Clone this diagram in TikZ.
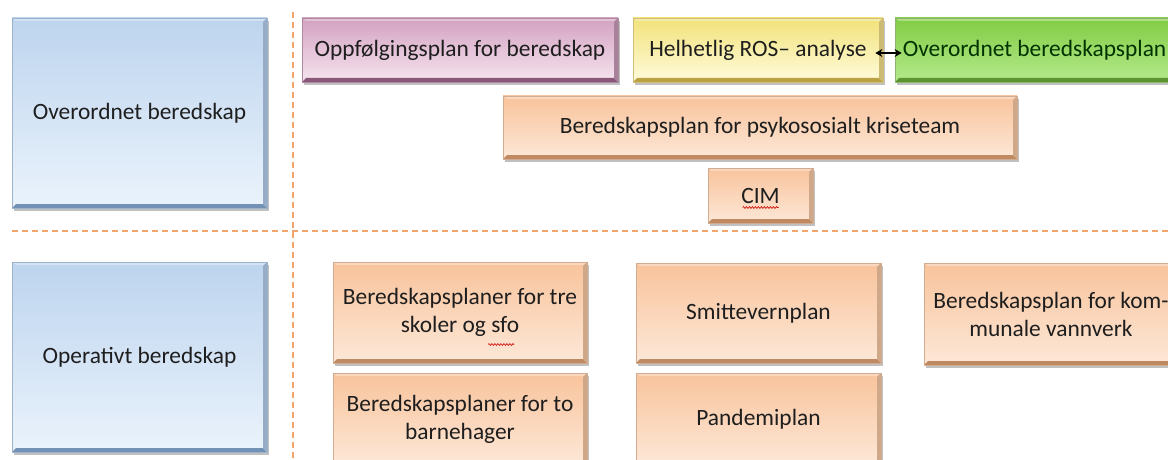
\documentclass[tikz,border=0pt]{standalone}
\usepackage{fontspec}
\setmainfont{Carlito}
\usetikzlibrary{shadows,arrows.meta,decorations.pathmorphing}
\definecolor{txt}{HTML}{1E1E1E}
\definecolor{dashc}{HTML}{F4A46E}
\definecolor{blueD}{HTML}{BDD4EE}\definecolor{blueL}{HTML}{EAF3FC}\definecolor{blueB}{HTML}{7391B5}
\definecolor{pinkD}{HTML}{D3A2C1}\definecolor{pinkL}{HTML}{F6E4EF}\definecolor{pinkB}{HTML}{8A5878}
\definecolor{yelD}{HTML}{F2E27A}\definecolor{yelL}{HTML}{FFFBDC}\definecolor{yelB}{HTML}{BBA343}
\definecolor{grnD}{HTML}{82CC44}\definecolor{grnL}{HTML}{B4E98C}\definecolor{grnB}{HTML}{5D9432}
\definecolor{orD}{HTML}{F8C39B}\definecolor{orL}{HTML}{FDE8D8}\definecolor{orB}{HTML}{BF8962}
\tikzset{
  base/.style={draw, line width=0.7pt, rectangle, align=center, text=txt,
    font=\fontsize{23.4}{28}\selectfont, inner sep=0pt,
    drop shadow={shadow xshift=1.5pt, shadow yshift=-3pt, opacity=0.35, fill=black!70}},
  bevel/.style={path picture={
    \fill[#1] (path picture bounding box.south west) -- (path picture bounding box.south east)
      -- ([shift={(-4pt,4pt)}]path picture bounding box.south east) -- ([shift={(4pt,4pt)}]path picture bounding box.south west) -- cycle;
    \fill[#1!75] (path picture bounding box.south east) -- (path picture bounding box.north east)
      -- ([shift={(-4pt,-4pt)}]path picture bounding box.north east) -- ([shift={(-4pt,4pt)}]path picture bounding box.south east) -- cycle;
    \fill[white, opacity=0.35] (path picture bounding box.north west) -- (path picture bounding box.north east)
      -- ([shift={(-4pt,-3pt)}]path picture bounding box.north east) -- ([shift={(4pt,-3pt)}]path picture bounding box.north west) -- cycle;
  }},
  bluebox/.style={base, draw=blueB!70, top color=blueD, bottom color=blueL, bevel=blueB},
  pinkbox/.style={base, draw=pinkB!70, top color=pinkD, bottom color=pinkL, bevel=pinkB},
  yellowbox/.style={base, draw=yelB!70, top color=yelD, bottom color=yelL, bevel=yelB},
  greenbox/.style={base, draw=grnB!70, top color=grnD, bottom color=grnL, bevel=grnB, text=black!80!green},
  orangebox/.style={base, draw=orB!70, top color=orD, bottom color=orL, bevel=orB},
  divider/.style={dashc, line width=1.6pt, dash pattern=on 6pt off 4pt},
  squiggle/.style={red!80!black, line width=0.6pt, decorate, decoration={snake, amplitude=0.9pt, segment length=3pt}}
}
\begin{document}
\begin{tikzpicture}[x=1pt,y=-1pt]
\useasboundingbox (0,0) rectangle (1168,460);
\clip (0,0) rectangle (1168,460);
\fill[white] (0,0) rectangle (1168,460);
% dividers
\coordinate (vtop) at (293,12);
\coordinate (vbot) at (293,462);
\coordinate (hl) at (12,231);
\coordinate (hr) at (1170,231);
\draw[divider] (vtop) -- (vbot);
\draw[divider] (hl) -- (hr);
% left boxes
\node[bluebox, minimum width=255pt, minimum height=190pt] (ob) at (139.5,113) {Overordnet beredskap};
\node[bluebox, minimum width=255pt, minimum height=190pt] (opb) at (139.5,357) {Operativt beredskap};
% top row
\node[pinkbox, minimum width=316pt, minimum height=64pt] (opp) at (460,50) {Oppfølgingsplan for beredskap};
\node[yellowbox, minimum width=250pt, minimum height=64pt] (helh) at (758,50) {Helhetlig ROS– analyse};
\node[greenbox, minimum width=290pt, minimum height=64pt] (grn) at (1040,50) {Overordnet beredskapsplan\hspace*{11pt}};
\node[orangebox, minimum width=514pt, minimum height=63pt] (psyk) at (760,127.5) {Beredskapsplan for psykososialt kriseteam};
\node[orangebox, minimum width=105pt, minimum height=55pt] (cim) at (760.5,195.5) {CIM};
\draw[black, line width=1.8pt, {Stealth[length=7pt,width=8pt]}-{Stealth[length=7pt,width=8pt]}]
  ([shift={(-8,3)}]helh.east) -- ([shift={(7,3)}]grn.west);
% bottom
\node[orangebox, minimum width=254pt, minimum height=101pt] (tre) at (460,312.5) {Beredskapsplaner for tre\\skoler og sfo};
\node[orangebox, minimum width=254pt, minimum height=92pt] (barn) at (460,419) {Beredskapsplaner for to\\barnehager};
\node[orangebox, minimum width=245pt, minimum height=100pt] (smit) at (758.5,313) {Smittevernplan};
\node[orangebox, minimum width=245pt, minimum height=92pt] (pand) at (758.5,419) {Pandemiplan};
\node[orangebox, minimum width=254pt, minimum height=102pt] (vann) at (1051,314) {Beredskapsplan for kom-\\munale vannverk};
% spell-check marks
\draw[squiggle] ([shift={(-18,12)}]cim.center) -- ([shift={(18,12)}]cim.center);
\draw[squiggle] ([shift={(28,32)}]tre.center) -- ([shift={(54,32)}]tre.center);
\end{tikzpicture}
\end{document}
